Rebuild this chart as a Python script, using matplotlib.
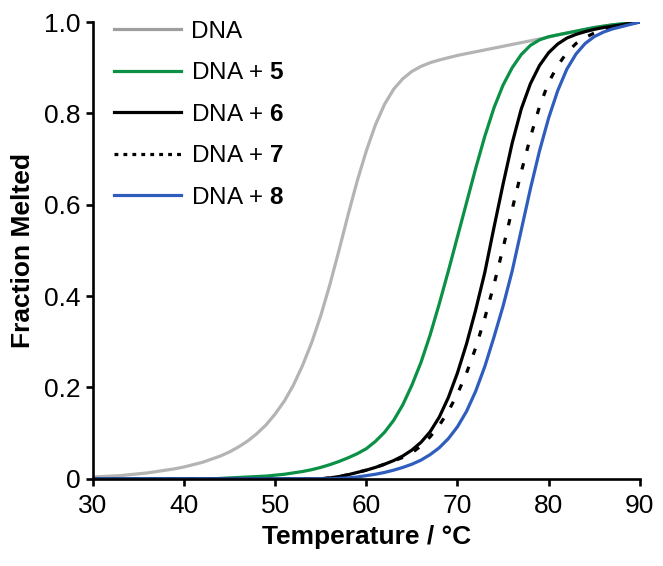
import matplotlib
matplotlib.use("Agg")
import matplotlib.pyplot as plt
from matplotlib.lines import Line2D

plt.rcParams['font.family'] = ['Liberation Sans', 'DejaVu Sans']
plt.rcParams['mathtext.fontset'] = 'custom'
plt.rcParams['mathtext.rm'] = 'Liberation Sans'
plt.rcParams['mathtext.bf'] = 'Liberation Sans:bold'

temps = list(range(30, 91))

dna = [0.004, 0.005, 0.006, 0.007, 0.009, 0.011, 0.013, 0.016, 0.019, 0.022,
       0.026, 0.031, 0.036, 0.043, 0.050, 0.059, 0.070, 0.083, 0.099, 0.118,
       0.142, 0.170, 0.205, 0.248, 0.298, 0.357, 0.425, 0.500, 0.578, 0.652,
       0.718, 0.775, 0.820, 0.853, 0.876, 0.892, 0.903, 0.911, 0.917, 0.922,
       0.927, 0.931, 0.935, 0.939, 0.943, 0.947, 0.951, 0.955, 0.959, 0.963,
       0.967, 0.972, 0.976, 0.980, 0.984, 0.988, 0.991, 0.994, 0.996, 0.998, 1.000]

dna5 = [0.000, 0.000, 0.000, 0.000, 0.000, 0.000, 0.000, 0.000, 0.000, 0.000,
        0.000, 0.000, 0.000, 0.000, 0.001, 0.002, 0.003, 0.004, 0.005, 0.006,
        0.008, 0.010, 0.013, 0.016, 0.020, 0.025, 0.031, 0.038, 0.046, 0.055,
        0.066, 0.082, 0.102, 0.128, 0.162, 0.205, 0.255, 0.315, 0.383, 0.455,
        0.530, 0.605, 0.680, 0.750, 0.812, 0.862, 0.900, 0.929, 0.949, 0.961,
        0.968, 0.972, 0.976, 0.980, 0.984, 0.988, 0.991, 0.994, 0.996, 0.998, 1.000]

dna6 = [0.000, 0.000, 0.000, 0.000, 0.000, 0.000, 0.000, 0.000, 0.000, 0.000,
        0.000, 0.000, 0.000, 0.000, 0.000, 0.000, 0.000, 0.000, 0.000, 0.000,
        0.000, 0.000, 0.000, 0.000, 0.000, 0.000, 0.002, 0.005, 0.009, 0.014,
        0.019, 0.025, 0.032, 0.040, 0.050, 0.063, 0.080, 0.103, 0.135, 0.178,
        0.232, 0.296, 0.370, 0.452, 0.550, 0.645, 0.735, 0.810, 0.865, 0.905,
        0.933, 0.952, 0.965, 0.973, 0.979, 0.984, 0.988, 0.991, 0.994, 0.997, 1.000]

dna7 = [0.000, 0.000, 0.000, 0.000, 0.000, 0.000, 0.000, 0.000, 0.000, 0.000,
        0.000, 0.000, 0.000, 0.000, 0.000, 0.000, 0.000, 0.000, 0.000, 0.000,
        0.000, 0.000, 0.000, 0.000, 0.000, 0.000, 0.002, 0.005, 0.009, 0.014,
        0.019, 0.025, 0.032, 0.039, 0.047, 0.057, 0.072, 0.092, 0.117, 0.148,
        0.186, 0.232, 0.287, 0.352, 0.425, 0.505, 0.590, 0.672, 0.748, 0.815,
        0.868, 0.905, 0.933, 0.953, 0.966, 0.976, 0.983, 0.988, 0.993, 0.997, 1.000]

dna8 = [0.000, 0.000, 0.000, 0.000, 0.000, 0.000, 0.000, 0.000, 0.000, 0.000,
        0.000, 0.000, 0.000, 0.000, 0.000, 0.000, 0.000, 0.000, 0.000, 0.000,
        0.000, 0.000, 0.000, 0.000, 0.000, 0.000, 0.000, 0.001, 0.002, 0.004,
        0.007, 0.010, 0.014, 0.019, 0.025, 0.032, 0.041, 0.053, 0.068, 0.088,
        0.114, 0.148, 0.192, 0.246, 0.310, 0.378, 0.455, 0.545, 0.635, 0.718,
        0.790, 0.850, 0.897, 0.930, 0.953, 0.968, 0.978, 0.985, 0.990, 0.995, 1.000]

labels = ['DNA', r'DNA + $\mathbf{5}$', r'DNA + $\mathbf{6}$',
          r'DNA + $\mathbf{7}$', r'DNA + $\mathbf{8}$']
xticks = [30, 40, 50, 60, 70, 80, 90]
yticks = [0, 0.2, 0.4, 0.6, 0.8, 1.0]
yticklabels = ['0', '0.2', '0.4', '0.6', '0.8', '1.0']

fig = plt.figure(figsize=(6.63, 5.66), dpi=100)
ax = fig.add_axes([0.140, 0.154, 0.825, 0.807])

lw = 2.3
gray, green, blue = '#b4b4b4', '#0a9146', '#2f5dbd'
ax.plot(temps, dna, color=gray, lw=lw)
ax.plot(temps, dna5, color=green, lw=lw)
ax.plot(temps, dna6, color='black', lw=lw)
ax.plot(temps, dna7, color='black', lw=lw, linestyle=(0, (2.0, 4.0)))
ax.plot(temps, dna8, color=blue, lw=lw)

handles = [
    Line2D([], [], color='#9e9e9e', lw=lw),
    Line2D([], [], color=green, lw=lw),
    Line2D([], [], color='black', lw=lw),
    Line2D([], [], color='black', lw=lw, linestyle=(0, (1.2, 1.6))),
    Line2D([], [], color=blue, lw=lw),
]
leg = ax.legend(handles, labels, loc='upper left', bbox_to_anchor=(0.008, 1.04),
                frameon=False, fontsize=17.5, handlelength=2.75, handletextpad=0.42,
                labelspacing=0.8, borderaxespad=0.3)

ax.set_xlim(30, 90)
ax.set_ylim(0, 1.0)
ax.set_xticks(xticks)
ax.set_yticks(yticks)
ax.set_yticklabels(yticklabels)
for s in ['top', 'right']:
    ax.spines[s].set_visible(False)
for s in ['left', 'bottom']:
    ax.spines[s].set_linewidth(1.9)
ax.tick_params(direction='out', length=5, width=1.9, labelsize=19, pad=4)
ax.tick_params(axis='x', pad=6)

ax.set_xlabel('Temperature / °C', fontsize=19, fontweight='bold', labelpad=5)
ax.set_ylabel('Fraction Melted', fontsize=19, fontweight='bold', labelpad=6)

fig.savefig('out.png', dpi=100)
